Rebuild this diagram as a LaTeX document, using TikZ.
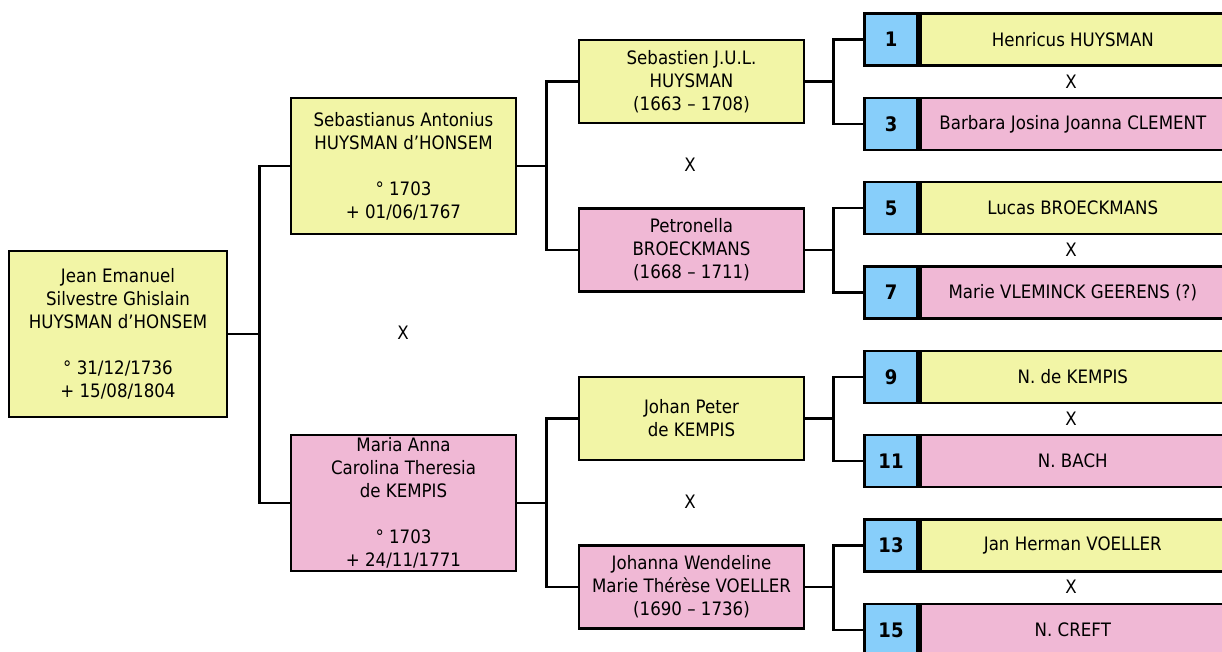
\documentclass[tikz,border=0pt]{standalone}
\usepackage{fontspec}
\setmainfont{DejaVu Sans}[FakeStretch=0.9]
\usepackage{tikz}
\usetikzlibrary{positioning}
\definecolor{male}{RGB}{242,245,166}
\definecolor{female}{RGB}{240,184,213}
\definecolor{sosa}{RGB}{135,206,250}

\begin{document}
\begin{tikzpicture}[x=1pt, y=-1pt,
		person/.style={draw, line width=2.8pt, align=center, inner sep=0pt,
			font=\fontsize{18.5}{23}\selectfont},
		man/.style={person, fill=male},
		woman/.style={person, fill=female},
		gentwo/.style={minimum width=225pt, minimum height=136pt},
		genthree/.style={minimum width=225pt, minimum height=83pt},
		numbox/.style={person, fill=sosa, minimum width=53pt, minimum height=52pt,
			font=\fontsize{20}{23}\selectfont\bfseries},
		namebox/.style={minimum width=305pt, minimum height=52pt},
		link/.style={line width=2.8pt},
		wed/.style={font=\fontsize{18.5}{23}\selectfont, inner sep=0pt}]
		\useasboundingbox (0,0) rectangle (1222,651);
		\clip (0,0) rectangle (1222,651);
		% child
		\node[man, minimum width=218pt, minimum height=166pt] (root) at (118,334)
			{Jean Emanuel\\Silvestre Ghislain\\HUYSMAN d’HONSEM\\[23pt]° 31/12/1736\\+ 15/08/1804};
		% parents
		\node[man, gentwo] (sa) at (403.5,166)
			{Sebastianus Antonius\\HUYSMAN d’HONSEM\\[23pt]° 1703\\+ 01/06/1767};
		\node[woman, gentwo] (ma) at (403.5,503)
			{Maria Anna\\Carolina Theresia\\de KEMPIS\\[23pt]° 1703\\+ 24/11/1771};
		\node[wed] (xroot) at (403,333) {X};
		% grandparents
		\node[man, genthree] (sj) at (691.5,81.5)
			{Sebastien J.U.L.\\HUYSMAN\\(1663 – 1708)};
		\node[woman, genthree] (pb) at (691.5,250)
			{Petronella\\BROECKMANS\\(1668 – 1711)};
		\node[man, genthree] (jp) at (691.5,418.5)
			{Johan Peter\\de KEMPIS};
		\node[woman, genthree] (jw) at (691.5,587)
			{Johanna Wendeline\\Marie Thérèse VOELLER\\(1690 – 1736)};
		\node[wed] (xsa) at (690,165) {X};
		\node[wed] (xma) at (690,502) {X};
		% great-grandparents
		\node[numbox] (n1) at (891,39.5) {1};
		\node[man, namebox, right=0pt of n1] (p1) {Henricus HUYSMAN};
		\node[numbox] (n3) at (891,124) {3};
		\node[woman, namebox, right=0pt of n3] (p3) {Barbara Josina Joanna CLEMENT};
		\node[numbox] (n5) at (891,208) {5};
		\node[man, namebox, right=0pt of n5] (p5) {Lucas BROECKMANS};
		\node[numbox] (n7) at (891,292.5) {7};
		\node[woman, namebox, right=0pt of n7] (p7) {Marie VLEMINCK GEERENS (?)};
		\node[numbox] (n9) at (891,377) {9};
		\node[man, namebox, right=0pt of n9] (p9) {N. de KEMPIS};
		\node[numbox] (n11) at (891,461) {11};
		\node[woman, namebox, right=0pt of n11] (p11) {N. BACH};
		\node[numbox] (n13) at (891,545.5) {13};
		\node[man, namebox, right=0pt of n13] (p13) {Jan Herman VOELLER};
		\node[numbox] (n15) at (891,630) {15};
		\node[woman, namebox, right=0pt of n15] (p15) {N. CREFT};
		\node[wed] (xsj) at (1071,81.5) {X};
		\node[wed] (xpb) at (1071,250) {X};
		\node[wed] (xjp) at (1071,418.5) {X};
		\node[wed] (xjw) at (1071,587) {X};
		% links
		\draw[link] (root.east) -- ++(31,0) |- (sa.west);
		\draw[link] (root.east) -- ++(31,0) |- (ma.west);
		\draw[link] (sa.east) -- ++(29,0) |- (sj.west);
		\draw[link] (sa.east) -- ++(29,0) |- (pb.west);
		\draw[link] (ma.east) -- ++(29,0) |- (jp.west);
		\draw[link] (ma.east) -- ++(29,0) |- (jw.west);
		\draw[link] (sj.east) -- ++(28,0) |- (n1.west);
		\draw[link] (sj.east) -- ++(28,0) |- (n3.west);
		\draw[link] (pb.east) -- ++(28,0) |- (n5.west);
		\draw[link] (pb.east) -- ++(28,0) |- (n7.west);
		\draw[link] (jp.east) -- ++(28,0) |- (n9.west);
		\draw[link] (jp.east) -- ++(28,0) |- (n11.west);
		\draw[link] (jw.east) -- ++(28,0) |- (n13.west);
		\draw[link] (jw.east) -- ++(28,0) |- (n15.west);
	\end{tikzpicture}
\end{document}
